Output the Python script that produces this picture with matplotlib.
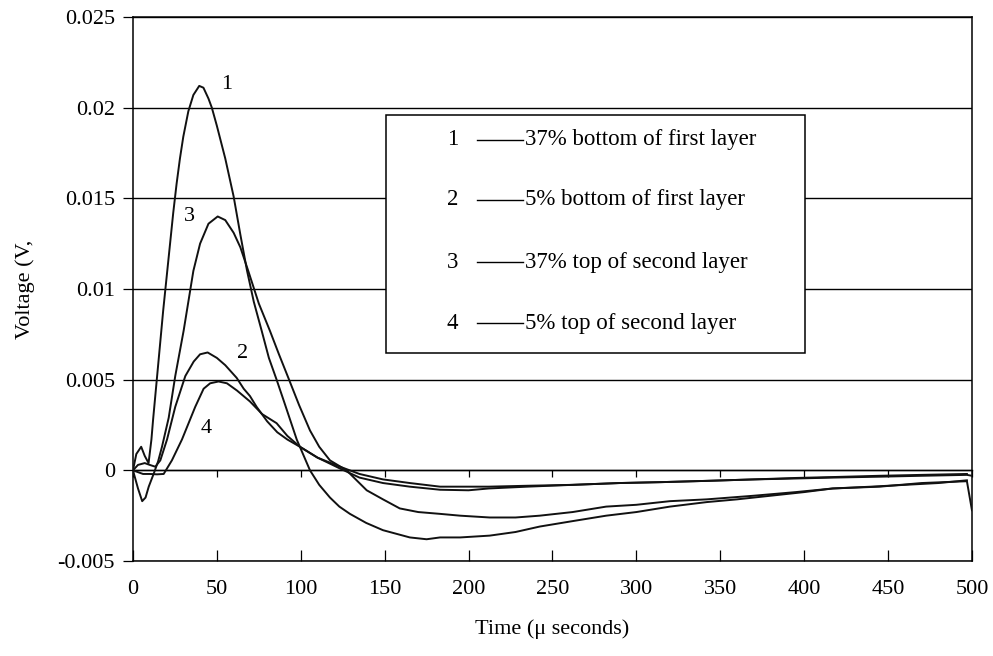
import numpy as np
import matplotlib
matplotlib.use("Agg")
import matplotlib.pyplot as plt
from matplotlib.patches import Rectangle

plt.rcParams['font.family'] = ['Liberation Serif', 'DejaVu Serif']

# ---------------- data ----------------
# curve 1 : 37% bottom of first layer
t1 = [0, 2, 4.9, 7, 9.3, 11, 12, 14, 16, 18, 20, 22, 24, 26, 28, 30, 33, 36, 39.5, 42, 45,
      47, 50, 55, 60, 64, 68, 72, 76.7, 81, 85.6, 90, 97.6, 105.5, 111, 117.4, 123, 129.3,
      139, 149, 157, 165, 175, 183, 195, 212.6, 228, 242.4, 262, 282, 300, 320, 342, 360,
      380, 400, 417, 440, 460, 480, 497]
v1 = [0, 0.0009, 0.0013, 0.0008, 0.0004, 0.0017, 0.0028, 0.0048, 0.0068, 0.0088, 0.0106,
      0.0124, 0.0142, 0.0158, 0.0172, 0.0184, 0.0198, 0.0207, 0.0212, 0.0211, 0.0205,
      0.0200, 0.0190, 0.0172, 0.0151, 0.0130, 0.0110, 0.0093, 0.0077, 0.0062, 0.0050,
      0.0038, 0.0017, 0.0000, -0.0008, -0.0015, -0.0020, -0.0024, -0.0029, -0.0033,
      -0.0035, -0.0037, -0.0038, -0.0037, -0.0037, -0.0036, -0.0034, -0.0031, -0.0028,
      -0.0025, -0.0023, -0.0020, -0.00175, -0.0016, -0.0014, -0.0012, -0.0010, -0.0009,
      -0.0008, -0.0007, -0.00055]

# curve 2 : 5% bottom of first layer
t2 = [0, 3, 7, 10, 13.3, 16.3, 20.3, 25.2, 31.2, 36.2, 40, 44.5, 50, 55, 61.8, 66, 69.7,
      73.7, 80, 86, 92, 99.5, 110, 123.4, 135, 149, 165, 183, 200, 212, 235, 262, 290, 315,
      342, 370, 395, 417, 445, 470, 497]
v2 = [0, 0.0003, 0.0004, 0.0003, 0.0002, 0.00055, 0.0017, 0.0035, 0.0052, 0.0060, 0.0064,
      0.0065, 0.0062, 0.0058, 0.0051, 0.0045, 0.0041, 0.0035, 0.0027, 0.0021, 0.0017,
      0.0013, 0.0007, 0.0002, -0.0002, -0.0005, -0.0007, -0.0009, -0.0009, -0.0009,
      -0.00085, -0.0008, -0.0007, -0.00065, -0.00058, -0.0005, -0.00042, -0.00037,
      -0.0003, -0.00025, -0.0002]

# curve 3 : 37% top of second layer
t3 = [0, 3, 5.5, 7.5, 9.4, 12.3, 15, 17.3, 21.3, 25.2, 30.2, 36, 40, 45, 50.5, 55, 60, 64,
      68.7, 75, 81.6, 87, 92.6, 99, 105.5, 111, 117.4, 127.3, 139.3, 149, 159, 170, 183,
      195, 212.6, 228, 242.4, 262, 282, 300, 320, 342, 370, 395, 417, 445, 470, 497, 500]
v3 = [0, -0.0010, -0.0017, -0.0015, -0.0009, -0.0002, 0.0005, 0.0013, 0.0029, 0.0052,
      0.0077, 0.0110, 0.0125, 0.0136, 0.0140, 0.0138, 0.0131, 0.0123, 0.0110, 0.0092,
      0.0077, 0.0064, 0.0051, 0.0036, 0.0022, 0.0013, 0.00055, 0.0000, -0.0011, -0.0016,
      -0.0021, -0.0023, -0.0024, -0.0025, -0.0026, -0.0026, -0.0025, -0.0023, -0.0020,
      -0.0019, -0.0017, -0.0016, -0.0014, -0.0012, -0.0010, -0.0009, -0.0007, -0.0006,
      -0.0022]

# curve 4 : 5% top of second layer
t4 = [0, 3, 6, 10, 14.3, 18.3, 23.2, 29.2, 37.1, 42.1, 46, 51, 56, 62, 69.7, 77, 85.6, 92,
      99.5, 110, 123.4, 135, 149, 165, 183, 200, 212, 235, 262, 290, 315, 342, 370, 395,
      417, 445, 470, 497, 500]
v4 = [0, -0.0001, -0.0002, -0.0002, -0.00022, -0.0002, 0.00055, 0.0017, 0.0035, 0.0045,
      0.0048, 0.0049, 0.0048, 0.0044, 0.0038, 0.0031, 0.0026, 0.0019, 0.0013, 0.0007,
      0.0001, -0.0004, -0.0007, -0.0009, -0.00107, -0.0011, -0.0010, -0.0009, -0.0008,
      -0.0007, -0.00065, -0.00058, -0.0005, -0.00045, -0.0004, -0.00035, -0.0003,
      -0.00025, -0.0003]

series = [(t1, v1), (t2, v2), (t3, v3), (t4, v4)]
curve_ids = ['1', '2', '3', '4']
curve_label_pos = [(56, 0.02125), (65.4, 0.00647), (33.6, 0.01398), (43.5, 0.0023)]
legend_labels = ['37% bottom of first layer', '5% bottom of first layer',
                 '37% top of second layer', '5% top of second layer']

xticks = np.arange(0, 501, 50)
yticks = [-0.005, 0, 0.005, 0.01, 0.015, 0.02, 0.025]
ytick_labels = ['-0.005', '0', '0.005', '0.01', '0.015', '0.02', '0.025']

# ---------------- figure ----------------
fig = plt.figure(figsize=(9.93, 6.56), dpi=100)
ax = fig.add_axes([0.1339, 0.1448, 0.8449, 0.8293])

for t, v in series:
    ax.plot(t, v, color='#111111', lw=1.4, zorder=3)

for cid, (x, y) in zip(curve_ids, curve_label_pos):
    ax.text(x, y, cid, fontsize=16, ha='center', va='center', zorder=4)

ax.set_xlim(0, 500)
ax.set_ylim(-0.005, 0.025)
ax.set_xticks(xticks)
ax.set_yticks(yticks)
ax.set_yticklabels(ytick_labels)
ax.yaxis.grid(True, color='black', lw=1.0)
ax.set_axisbelow(True)
ax.tick_params(axis='y', direction='out', length=7, width=0.9, pad=6, labelsize=16)
ax.tick_params(axis='x', direction='in', length=8, width=0.9, pad=14, labelsize=16)
for s in ax.spines.values():
    s.set_linewidth(1.1)

# x axis crossing at V = 0 (ticks hang down from the zero line)
secax = ax.secondary_xaxis(1.0 / 6.0)
secax.set_xticks(xticks)
secax.tick_params(direction='out', length=5, width=0.9, labelbottom=False)
secax.spines['bottom'].set_linewidth(1.0)

ax.set_xlabel('Time (\u03bc seconds)', fontsize=16, labelpad=14)
ax.set_ylabel('Voltage (V,', fontsize=16, labelpad=16)

# legend box drawn by hand, like the original text box
ax.add_patch(Rectangle((0.3016, 0.382), 0.4994, 0.438, transform=ax.transAxes,
                       facecolor='white', edgecolor='black', lw=1.1, zorder=5))
entry_y = [0.7748, 0.6636, 0.5496, 0.4375]
for cid, lab, yy in zip(curve_ids, legend_labels, entry_y):
    ax.text(0.381, yy, cid, transform=ax.transAxes, fontsize=16.5, ha='center',
            va='center', zorder=6)
    ax.plot([0.410, 0.465], [yy, yy], transform=ax.transAxes, color='black', lw=1.0,
            zorder=6)
    ax.text(0.467, yy, lab, transform=ax.transAxes, fontsize=16.5, ha='left',
            va='center', zorder=6)

fig.savefig('out.png', dpi=100)
